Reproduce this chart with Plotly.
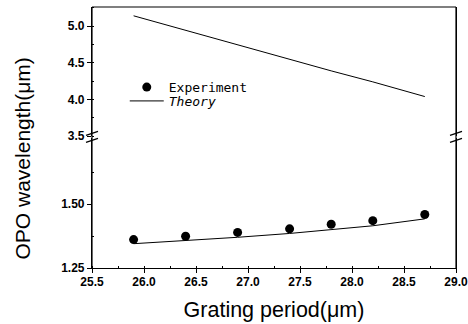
import plotly.graph_objects as go

# ---- data ----
grating_exp = [25.9, 26.4, 26.9, 27.4, 27.8, 28.2, 28.7]
signal_exp = [1.361, 1.374, 1.389, 1.403, 1.421, 1.435, 1.459]

grating_theory = [25.9, 26.4, 26.9, 27.4, 27.8, 28.2, 28.7]
signal_theory = [1.345, 1.357, 1.370, 1.385, 1.399, 1.415, 1.442]
idler_theory = [5.14, 4.94, 4.75, 4.55, 4.39, 4.24, 4.04]

x_tick_vals = [25.5, 26.0, 26.5, 27.0, 27.5, 28.0, 28.5, 29.0]
x_tick_text = ["25.5", "26.0", "26.5", "27.0", "27.5", "28.0", "28.5", "29.0"]
upper_tick_vals = [3.5, 4.0, 4.5, 5.0]
upper_tick_text = ["3.5", "4.0", "4.5", "5.0"]
lower_tick_vals = [1.25, 1.50]
lower_tick_text = ["1.25", "1.50"]

FONT = "Liberation Sans, Arial, sans-serif"
MONO = "DejaVu Sans Mono, monospace"

fig = go.Figure()

fig.add_trace(go.Scatter(
    x=grating_exp, y=signal_exp, mode="markers", name="Experiment",
    marker=dict(color="black", size=9), xaxis="x", yaxis="y", legend="legend",
))
fig.add_trace(go.Scatter(
    x=grating_theory, y=signal_theory, mode="lines", name="<i>Theory</i>",
    line=dict(color="black", width=1), xaxis="x", yaxis="y", legend="legend2",
))
fig.add_trace(go.Scatter(
    x=grating_theory, y=idler_theory, mode="lines", name="<i>Theory</i>",
    line=dict(color="black", width=1), xaxis="x", yaxis="y2", showlegend=False,
))

axis_common = dict(
    showline=True, linecolor="black", linewidth=1.2, showgrid=False, zeroline=False,
    ticks="outside", ticklen=4, tickwidth=1.2, tickcolor="black", automargin=False,
    tickfont=dict(family=FONT, size=12, color="black", weight="bold"),
)

fig.update_layout(
    width=468, height=324,
    margin=dict(l=92, r=12, t=7, b=56, autoexpand=False),
    paper_bgcolor="white", plot_bgcolor="white",
    xaxis=dict(
        domain=[0, 1], anchor="y", range=[25.5, 29.0],
        tickvals=x_tick_vals, ticktext=x_tick_text, ticklabelstandoff=-2,
        ticklabeloverflow="allow",
        minor=dict(ticks="inside", ticklen=2, dtick=0.25, tickcolor="black"),
        title=dict(text="Grating period(μm)", font=dict(family=FONT, size=21.5, color="black"), standoff=14),
        **axis_common,
    ),
    yaxis=dict(
        domain=[0, 0.5], anchor="x", range=[1.25, 1.76],
        tickvals=lower_tick_vals, ticktext=lower_tick_text, mirror=True,
        minor=dict(ticks="inside", ticklen=2, tickvals=[1.375, 1.625], tickcolor="black"),
        **axis_common,
    ),
    yaxis2=dict(
        domain=[0.505, 1], anchor="x", range=[3.5, 5.26],
        tickvals=upper_tick_vals, ticktext=upper_tick_text, mirror=True,
        minor=dict(ticks="inside", ticklen=2, dtick=0.25, tickcolor="black"),
        **axis_common,
    ),
    legend=dict(
        x=0.09, y=0.693, xanchor="left", yanchor="middle", bgcolor="rgba(0,0,0,0)",
        font=dict(family=MONO, size=13, color="black"), itemwidth=34,
    ),
    legend2=dict(
        x=0.09, y=0.640, xanchor="left", yanchor="middle", bgcolor="rgba(0,0,0,0)",
        font=dict(family=MONO, size=13, color="black"), itemwidth=34,
    ),
    annotations=[dict(
        text="OPO wavelength(μm)", textangle=-90, xref="paper", yref="paper",
        x=-0.192, y=0.42, xanchor="center", yanchor="middle", showarrow=False,
        font=dict(family=FONT, size=21, color="black"),
    )],
)

# frame lines (top, right, left) and axis-break marks
frame = dict(color="black", width=1.2)
shapes = [
    dict(type="line", xref="paper", yref="paper", x0=0, x1=1, y0=1, y1=1, line=frame),
    dict(type="line", xref="paper", yref="paper", x0=1, x1=1, y0=0, y1=1, line=frame),
    dict(type="line", xref="paper", yref="paper", x0=0, x1=0, y0=0, y1=1, line=frame),
]
for xa in (0, 1):
    for dy in (3.5, -3.5):
        shapes.append(dict(
            type="line", xref="paper", yref="paper",
            xsizemode="pixel", ysizemode="pixel", xanchor=xa, yanchor=0.5025,
            x0=-6, x1=6, y0=dy - 2, y1=dy + 2,
            line=frame,
        ))
fig.update_layout(shapes=shapes)

fig.write_html(
    "out.html",
    config={"displayModeBar": False},
    post_script="document.body.style.margin='0';document.body.style.overflow='hidden';",
)
